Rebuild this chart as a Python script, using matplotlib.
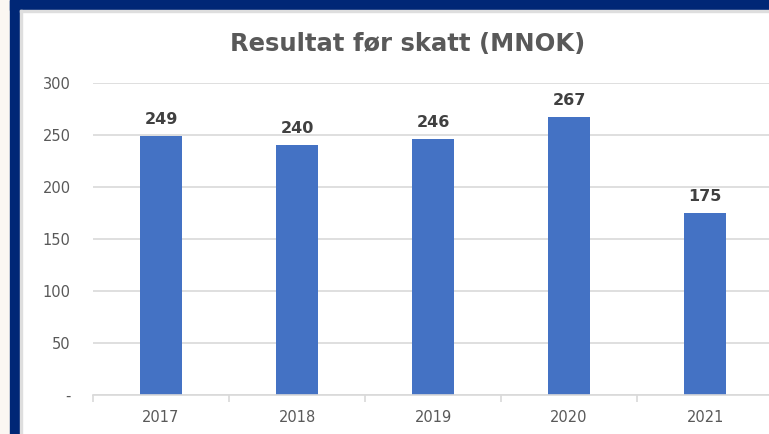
import matplotlib.pyplot as plt
from matplotlib.patches import Rectangle

years = ['2017', '2018', '2019', '2020', '2021']
values = [249, 240, 246, 267, 175]
yticks = [0, 50, 100, 150, 200, 250, 300]
ytick_labels = ['-', '50', '100', '150', '200', '250', '300']

plt.rcParams['font.family'] = 'DejaVu Sans'

W, H = 769, 434
fig = plt.figure(figsize=(W / 100, H / 100), dpi=100)
fig.patch.set_facecolor('white')

# frame around the slide area
fig.patches.append(Rectangle((0, 0), 10 / W, 1, transform=fig.transFigure, color='#fbf7f2', zorder=0))
fig.patches.append(Rectangle((10 / W, 0), 10 / W, 1, transform=fig.transFigure, color='#002776', zorder=0))
fig.patches.append(Rectangle((10 / W, 1 - 10 / H), 1 - 10 / W, 10 / H, transform=fig.transFigure, color='#002776', zorder=0))
fig.patches.append(Rectangle((20 / W, 1 - 11.5 / H), 1 - 20 / W, 1.5 / H, transform=fig.transFigure, color='#dedede', zorder=0))
fig.patches.append(Rectangle((20 / W, 0), 1.5 / W, 1 - 10 / H, transform=fig.transFigure, color='#dedede', zorder=0))

left, right = 93 / W, 1.0
bottom, top = 1 - 395 / H, 1 - 83 / H
ax = fig.add_axes([left, bottom, right - left, top - bottom])
ax.set_facecolor('none')

x = range(len(years))
ax.bar(x, values, width=0.31, color='#4472c4', zorder=2)
for xi, v in zip(x, values):
    ax.text(xi, v + 9, str(v), ha='center', va='bottom', fontsize=11.5,
            fontweight='bold', color='#404040')

ax.set_xlim(-0.5, 4.47)
ax.set_ylim(0, 300)
ax.set_yticks(yticks)
ax.set_yticklabels(ytick_labels)
ax.set_xticks(list(x))
ax.set_xticklabels(years)
ax.set_xticks([i + 0.5 for i in range(-1, 4)], minor=True)
ax.grid(axis='y', color='#d9d9d9', linewidth=1.2, zorder=0)
ax.tick_params(axis='y', length=0, pad=16, labelsize=10.5, labelcolor='#595959')
ax.tick_params(axis='x', which='major', length=0, pad=10.5, labelsize=10.5, labelcolor='#595959')
ax.tick_params(axis='x', which='minor', length=5, color='#d9d9d9', width=1.2)
for s in ['top', 'right', 'left']:
    ax.spines[s].set_visible(False)
ax.spines['bottom'].set_color('#d9d9d9')
ax.spines['bottom'].set_linewidth(1.2)

fig.text(408 / W, 1 - 44 / H, 'Resultat før skatt (MNOK)', ha='center', va='center',
         fontsize=17.5, fontweight='bold', color='#595959')

fig.savefig('out.png', dpi=100)
